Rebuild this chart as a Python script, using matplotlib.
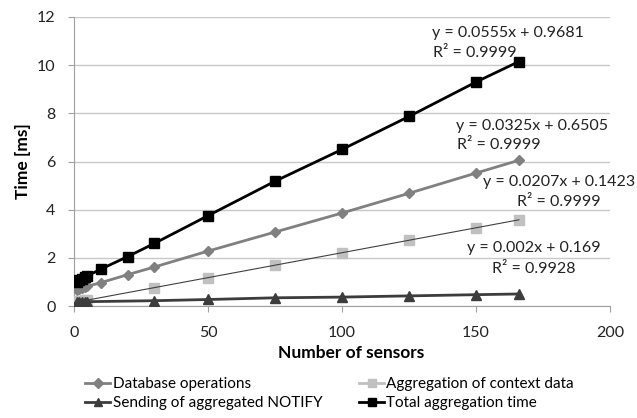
import matplotlib
matplotlib.use("Agg")
import matplotlib.pyplot as plt
from matplotlib.lines import Line2D
import numpy as np

plt.rcParams['font.family'] = ['Lato', 'DejaVu Sans']

x_db = [1, 2, 3, 4, 5, 10, 20, 30, 50, 75, 100, 125, 150, 166]
db = [0.68, 0.72, 0.75, 0.79, 0.82, 0.97, 1.30, 1.62, 2.28, 3.07, 3.86, 4.68, 5.52, 6.05]

x_agg = [1, 2, 3, 4, 5, 30, 50, 75, 100, 125, 150, 166]
agg = [0.17, 0.19, 0.21, 0.23, 0.25, 0.75, 1.18, 1.70, 2.20, 2.72, 3.25, 3.57]

x_not = [1, 2, 3, 4, 5, 30, 50, 75, 100, 125, 150, 166]
notify = [0.16, 0.17, 0.17, 0.17, 0.18, 0.22, 0.27, 0.34, 0.37, 0.42, 0.47, 0.50]

x_tot = [1, 2, 3, 4, 5, 10, 20, 30, 50, 75, 100, 125, 150, 166]
total = [0.98, 1.06, 1.12, 1.19, 1.25, 1.53, 2.05, 2.60, 3.75, 5.18, 6.50, 7.87, 9.30, 10.15]

agg_slope, agg_icpt = 0.0207, 0.1423

labels = ["Database operations", "Aggregation of context data",
          "Sending of aggregated NOTIFY", "Total aggregation time"]
eq_lines = ["y = 0.0555x + 0.9681", "R\u00b2 = 0.9999",
            "y = 0.0325x + 0.6505", "R\u00b2 = 0.9999",
            "y = 0.0207x + 0.1423", "R\u00b2 = 0.9999",
            "y = 0.002x + 0.169", "R\u00b2 = 0.9928"]

W, H = 637, 418
fig = plt.figure(figsize=(W/100, H/100), dpi=100)
L, R, T, B = 74, 610, 17, 306
ax = fig.add_axes([L/W, 1-B/H, (R-L)/W, (B-T)/H])

c_db = '#808080'
c_agg = '#c0c0c0'
c_not = '#3c3c3c'
c_tot = '#000000'

ax.plot(x_db, db, color=c_db, lw=2, marker='D', ms=5, zorder=3)
xt = np.array([0, x_agg[-1]])
ax.plot(xt, agg_slope*xt + agg_icpt, color='#404040', lw=0.8, zorder=4)
ax.plot(x_agg, agg, color=c_agg, lw=0, marker='s', ms=7, zorder=3)
ax.plot(x_not, notify, color=c_not, lw=2, marker='^', ms=7, zorder=3)
ax.plot(x_tot, total, color=c_tot, lw=2, marker='s', ms=7, zorder=5)

ax.set_xlim(0, 200)
ax.set_ylim(0, 12)
ax.set_xticks(range(0, 201, 50))
ax.set_yticks(range(0, 13, 2))
ax.grid(axis='y', color='#c8c8c8', lw=1)
ax.set_axisbelow(True)
for s in ['top', 'right']:
    ax.spines[s].set_visible(False)
for s in ['left', 'bottom']:
    ax.spines[s].set_color('#a0a0a0')
ax.tick_params(axis='both', colors='#a0a0a0', labelcolor='#222222', labelsize=11.5, length=4.3)
ax.tick_params(axis='x', pad=10)
ax.tick_params(axis='y', pad=9)
ax.set_xlabel("Number of sensors", fontsize=12.5, fontweight='bold')
ax.set_ylabel("Time [ms]", fontsize=12.5, fontweight='bold')
ax.xaxis.set_label_coords((351-L)/(R-L), -(345-B)/(B-T))
ax.yaxis.set_label_coords(-(L-31)/(R-L), 0.5)

pos = [(432, 33), (433, 53), (456, 126), (457, 145),
       (483, 182), (517, 202), (467, 248), (492, 269)]
for t, (px, py) in zip(eq_lines, pos):
    fig.text(px/W, 1-py/H, t, ha='left', va='center', fontsize=11.5, color='#222222')

handles = [Line2D([], [], color=c_db, lw=2, marker='D', ms=5),
           Line2D([], [], color=c_agg, lw=2, marker='s', ms=6),
           Line2D([], [], color=c_not, lw=2, marker='^', ms=6),
           Line2D([], [], color=c_tot, lw=2, marker='s', ms=6)]
lkw = dict(loc='upper left', frameon=False, fontsize=11, handlelength=1.65,
           handletextpad=0.15, labelspacing=0.35, borderpad=0, borderaxespad=0)
leg1 = fig.legend([handles[0], handles[2]], [labels[0], labels[2]],
                  bbox_to_anchor=(85/W, 1-377/H), **lkw)
leg2 = fig.legend([handles[1], handles[3]], [labels[1], labels[3]],
                  bbox_to_anchor=(359/W, 1-377/H), **lkw)

fig.savefig("out.png", dpi=100)
